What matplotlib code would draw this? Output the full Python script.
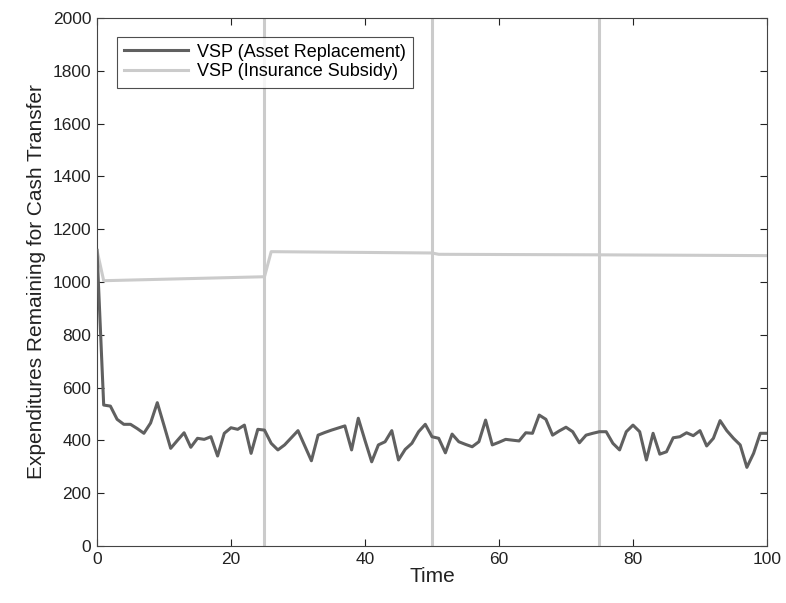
import matplotlib.pyplot as plt

# Data
time = list(range(101))
asset_replacement = [
    1120, 534, 530, 480, 461, 461, 445, 427, 466, 543,
    457, 370, 400, 429, 374, 408, 404, 414, 341, 427,
    448, 442, 458, 351, 442, 439, 389, 364, 383, 410,
    437, 380, 323, 420, 430, 439, 447, 455, 364, 484,
    400, 319, 383, 395, 437, 326, 366, 389, 433, 461,
    414, 408, 353, 424, 395, 385, 376, 395, 477, 383,
    393, 404, 401, 398, 429, 427, 496, 480, 420, 436,
    450, 433, 391, 420, 427, 433, 433, 389, 364, 433,
    458, 433, 326, 427, 348, 357, 410, 414, 429, 418,
    437, 379, 408, 475, 437, 408, 383, 298, 351, 427,
    427,
]
subsidy_time = [0, 1, 25, 26, 50, 51, 75, 100]
insurance_subsidy = [1120, 1005, 1020, 1115, 1110, 1105, 1103, 1100]
marker_times = [25, 50, 75]

dark = '#606060'
light = '#cbcbcb'

plt.rcParams['font.family'] = ['Liberation Sans', 'DejaVu Sans']

fig = plt.figure(figsize=(7.86, 6.03), dpi=100)
ax = fig.add_axes([0.1234, 0.0945, 0.8524, 0.8756])

for t in marker_times:
    ax.axvline(t, color=light, lw=2.2, zorder=1)

ax.plot(time, asset_replacement, color=dark, lw=2.2, label='VSP (Asset Replacement)', zorder=3)
ax.plot(subsidy_time, insurance_subsidy, color=light, lw=2.2, label='VSP (Insurance Subsidy)', zorder=2)

ax.set_xlim(0, 100)
ax.set_ylim(0, 2000)
ax.set_xticks(range(0, 101, 20))
ax.set_yticks(range(0, 2001, 200))
ax.tick_params(direction='in', top=True, right=True, length=5, width=0.8,
               labelsize=12.5, colors='#222222', pad=4)
for s in ax.spines.values():
    s.set_color('#444444')
    s.set_linewidth(0.8)

ax.set_xlabel('Time', fontsize=15, color='#222222', labelpad=0)
ax.set_ylabel('Expenditures Remaining for Cash Transfer', fontsize=15, color='#222222', labelpad=5)

leg = ax.legend(loc='upper left', bbox_to_anchor=(0.03, 0.965), fontsize=13,
                frameon=True, fancybox=False, handlelength=3.5, borderpad=0.4,
                labelspacing=0.15, handletextpad=0.5, borderaxespad=0)
leg.get_frame().set_edgecolor('#222222')
leg.get_frame().set_linewidth(0.8)

fig.savefig('out.png', dpi=100)
